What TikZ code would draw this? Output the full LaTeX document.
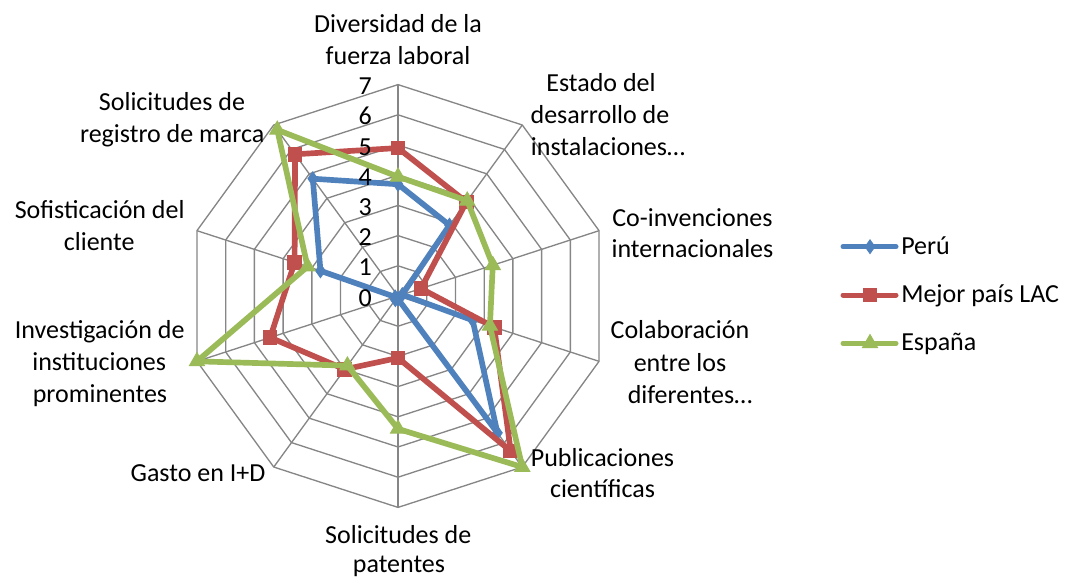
\documentclass[tikz,border=0pt]{standalone}
\usepackage{fontspec}
\setmainfont{Carlito}
\usetikzlibrary{shapes.geometric}
\definecolor{cPeru}{HTML}{4F81BD}
\definecolor{cLAC}{HTML}{C0504D}
\definecolor{cEsp}{HTML}{9BBB59}
\definecolor{cGrid}{HTML}{868686}
\begin{document}
\begin{tikzpicture}[x=0.75pt,y=-0.75pt,
  lbl/.style={anchor=base, inner sep=0pt, font=\fontsize{19.5}{23.4}\selectfont},
  num/.style={anchor=base east, inner sep=0pt, font=\fontsize{19.5}{23.4}\selectfont},
  leg/.style={anchor=base west, inner sep=0pt, font=\fontsize{19.5}{23.4}\selectfont},
  gridline/.style={draw=cGrid, line width=1pt},
  ser/.style={line width=4.25pt, line join=round, line cap=round},
  legser/.style={line width=3.75pt, line cap=round},
  mkPeru/.style={diamond, fill=cPeru, draw=cPeru, line width=0.75pt, inner sep=0pt, minimum width=7.5pt, minimum height=10.5pt},
  mkLAC/.style={rectangle, fill=cLAC, draw=cLAC, line width=0.75pt, inner sep=0pt, minimum size=10.2pt},
  mkEsp/.style={regular polygon, regular polygon sides=3, fill=cEsp, draw=cEsp, line width=0.75pt, inner sep=0pt, minimum size=13pt}
]
\useasboundingbox (0,0) rectangle (1067,579);
\begin{scope}[shift={(398,296)}, x=22.65pt, y=-22.65pt]
  % grid rings
  \foreach \r in {1,...,7} {
    \draw[gridline] (-90:\r) \foreach \k in {1,...,9} { -- (\k*36-90:\r) } -- cycle;
  }
  % spokes
  \foreach \k in {0,...,9} {
    \draw[gridline] (0,0) -- (\k*36-90:7);
  }
  % Peru
  \draw[ser, cPeru] (-90:3.7) -- (-54:2.9) -- (-18:0.15) -- (18:2.6) -- (54:5.6)
     -- (90:0.1) -- (126:0.15) -- (162:0.1) -- (198:2.7) -- (234:4.8) -- cycle;
  \foreach \a/\v in {-90/3.7,-54/2.9,-18/0.15,18/2.6,54/5.6,90/0.1,126/0.15,162/0.1,198/2.7,234/4.8}
    \node[mkPeru] at (\a:\v) {};
  % Mejor pais LAC
  \draw[ser, cLAC] (-90:4.9) -- (-54:3.85) -- (-18:0.8) -- (18:3.35) -- (54:6.35)
     -- (90:2.05) -- (126:3.0) -- (162:4.45) -- (198:3.6) -- (234:5.8) -- cycle;
  \foreach \a/\v in {-90/4.9,-54/3.85,-18/0.8,18/3.35,54/6.35,90/2.05,126/3.0,162/4.45,198/3.6,234/5.8}
    \node[mkLAC] at (\a:\v) {};
  % Espana
  \draw[ser, cEsp] (-90:3.95) -- (-54:3.9) -- (-18:3.3) -- (18:3.2) -- (54:7.0)
     -- (90:4.4) -- (126:2.85) -- (162:7.0) -- (198:3.15) -- (234:6.8) -- cycle;
  \foreach \a/\v in {-90/3.95,-54/3.9,-18/3.3,18/3.2,54/7.0,90/4.4,126/2.85,162/7.0,198/3.15,234/6.8}
    \node[mkEsp] at (\a:\v) {};
\end{scope}
% axis numbers
\foreach \i in {0,...,7} {
  \node[num] (n\i) at (372, {306-\i*30.2}) {\i};
}
% category labels
\node[lbl] (a1) at (398,32.7) {Diversidad de la};
\node[lbl] (a2) at (398,64.7) {fuerza laboral};
\node[lbl] (b1) at (601,91.7) {Estado del};
\node[lbl] (b2) at (600,123.3) {desarrollo de};
\node[lbl] (b3) at (608,155) {instalaciones…};
\node[lbl] (c1) at (692.5,226.7) {Co-invenciones};
\node[lbl] (c2) at (692.5,257) {internacionales};
\node[lbl] (d1) at (680,338.3) {Colaboración};
\node[lbl] (d2) at (680,371.7) {entre los};
\node[lbl] (d3) at (690,403.3) {diferentes…};
\node[lbl] (e1) at (602.5,466.7) {Publicaciones};
\node[lbl] (e2) at (602.5,497) {científicas};
\node[lbl] (f1) at (398.3,543.3) {Solicitudes de};
\node[lbl] (f2) at (399,572) {patentes};
\node[lbl] (g1) at (198,481.7) {Gasto en I+D};
\node[lbl] (h1) at (99.7,338.3) {Investigación de};
\node[lbl] (h2) at (99.2,370) {instituciones};
\node[lbl] (h3) at (100,402) {prominentes};
\node[lbl] (i1) at (99.7,218.3) {Sofisticación del};
\node[lbl] (i2) at (99.2,250) {cliente};
\node[lbl] (j1) at (172,110.9) {Solicitudes de};
\node[lbl] (j2) at (172.2,142.9) {registro de marca};
% legend
\coordinate (lp1) at (843,246.7); \coordinate (lp2) at (896,246.7);
\coordinate (ll1) at (843,295);   \coordinate (ll2) at (896,295);
\coordinate (le1) at (843,343.3); \coordinate (le2) at (896,343.3);
\draw[legser, cPeru] (lp1) -- (lp2);
\node[mkPeru] (mp) at (870,246.7) {};
\draw[legser, cLAC] (ll1) -- (ll2);
\node[mkLAC] (ml) at (870,295) {};
\draw[legser, cEsp] (le1) -- (le2);
\node[mkEsp] (me) at (870,343.3) {};
\node[leg] (tp) at (901,254.3) {Perú};
\node[leg] (tl) at (901,302.7) {Mejor país LAC};
\node[leg] (te) at (901,350) {España};
\end{tikzpicture}
\end{document}
